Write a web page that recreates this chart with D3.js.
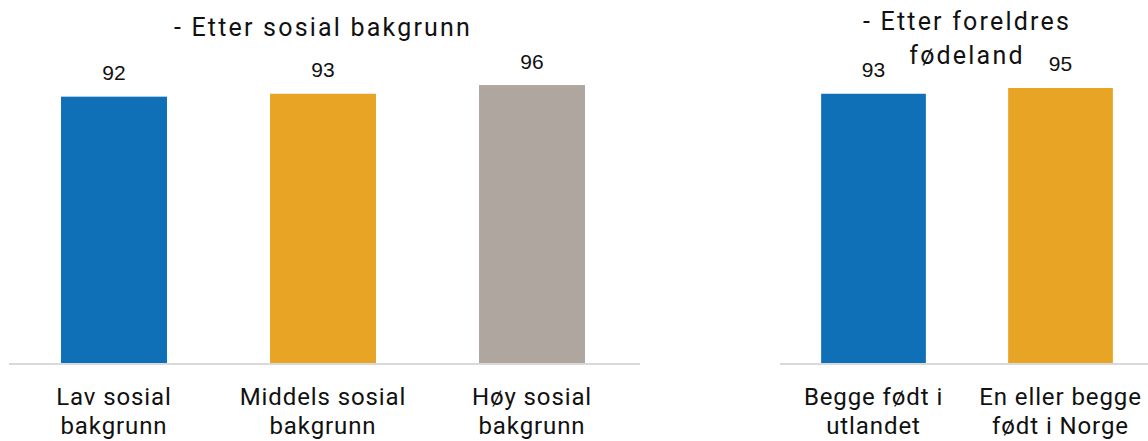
<!DOCTYPE html>
<html><head><meta charset="utf-8">
<script src="https://cdn.jsdelivr.net/npm/d3@7"></script>
<style>body{margin:0;background:#fff}svg{display:block}</style>
</head><body>
<script>
const leftCategories = [["Lav sosial","bakgrunn"],["Middels sosial","bakgrunn"],["Høy sosial","bakgrunn"]];
const leftValues = [92, 93, 96];
const leftColors = ["#0f70b8", "#e8a425", "#afa69f"];
const leftTitle = ["- Etter sosial bakgrunn"];

const rightCategories = [["Begge født i","utlandet"],["En eller begge","født i Norge"]];
const rightValues = [93, 95];
const rightColors = ["#0f70b8", "#e8a425"];
const rightTitle = ["- Etter foreldres","fødeland"];

const W = 1148, H = 441;
const svg = d3.select("body").append("svg").attr("width", W).attr("height", H);
const baseY = 363;
const y = d3.scaleLinear().domain([0, 100]).range([baseY, baseY - 289.5]);
const catFont = "Roboto, 'Noto Sans', sans-serif";

function panel(cats, vals, colors, title, x0, x1, lineX0, lineX1, pad, titleY, titleLH) {
  const keys = cats.map((c,i) => i);
  const x = d3.scaleBand().domain(keys).range([x0, x1]).paddingInner(pad).paddingOuter(pad/2);
  const g = svg.append("g");
  g.append("line").attr("x1", lineX0).attr("x2", lineX1).attr("y1", baseY + 1).attr("y2", baseY + 1)
    .attr("stroke", "#d9d9d9").attr("stroke-width", 2);
  g.selectAll("rect.bar").data(vals).join("rect").attr("class","bar")
    .attr("x", (d,i) => x(i)).attr("width", x.bandwidth())
    .attr("y", d => y(d)).attr("height", d => y(0) - y(d))
    .attr("fill", (d,i) => colors[i]);
  g.selectAll("text.val").data(vals).join("text").attr("class","val")
    .attr("x", (d,i) => x(i) + x.bandwidth()/2).attr("y", d => y(d) - 16.5)
    .attr("text-anchor","middle").attr("font-family","'Liberation Sans', Arial, sans-serif")
    .attr("font-size", 21).attr("fill", "#111").text(d => d);
  cats.forEach((lines, i) => {
    const t = g.append("text").attr("text-anchor","middle").attr("font-family", catFont)
      .attr("font-size", 24).attr("fill","#111").attr("letter-spacing", "0.9px");
    lines.forEach((l, j) => t.append("tspan").attr("x", x(i) + x.bandwidth()/2).attr("y", 404.5 + j*29).text(l));
  });
  const cx = (x0 + x1) / 2;
  const tt = g.append("text").attr("text-anchor","middle").attr("font-family", catFont)
    .attr("font-size", 25).attr("fill","#111").attr("letter-spacing","2.2px");
  title.forEach((l, j) => tt.append("tspan").attr("x", cx).attr("y", titleY + j*titleLH).text(l));
}

panel(leftCategories, leftValues, leftColors, leftTitle, 9.5, 636.5, 9, 640, 0.493, 36, 34);
panel(rightCategories, rightValues, rightColors, rightTitle, 780, 1154, 780, 1148, 0.44, 30, 34);
</script>
</body></html>
